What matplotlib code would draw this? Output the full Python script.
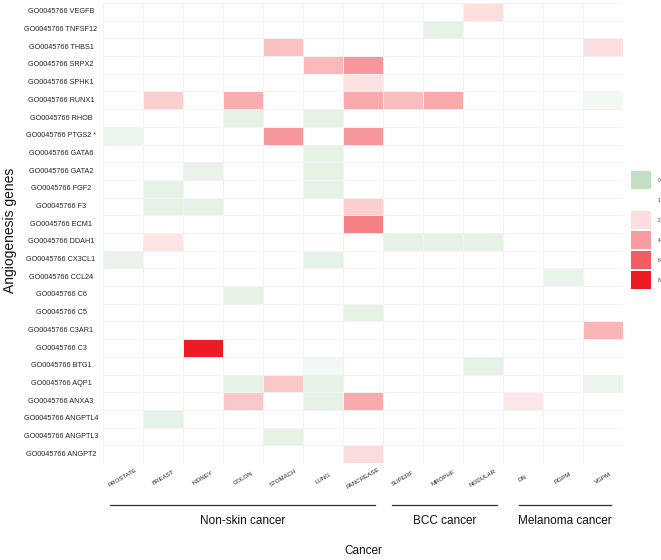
import numpy as np
import matplotlib
matplotlib.use("Agg")
import matplotlib.pyplot as plt
from matplotlib.colors import LinearSegmentedColormap, Normalize
from matplotlib.patches import Rectangle

plt.rcParams['font.family'] = ['Liberation Sans', 'DejaVu Sans']

genes = ["VEGFB", "TNFSF12", "THBS1", "SRPX2", "SPHK1", "RUNX1", "RHOB", "PTGS2 *",
         "GATA6", "GATA2", "FGF2", "F3", "ECM1", "DDAH1", "CX3CL1", "CCL24", "C6",
         "C5", "C3AR1", "C3", "BTG1", "AQP1", "ANXA3", "ANGPTL4", "ANGPTL3", "ANGPT2"]
cancers = ["PROSTATE", "BREAST", "KIDNEY", "COLON", "STOMACH", "LUNG", "PANCREASE",
           "SUPERF", "MROPHF", "NODULAR", "DN", "RGPM", "VGPM"]
groups = ["Non-skin cancer", "BCC cancer", "Melanoma cancer"]

# fold change per gene (rows) and cancer (columns), 1 = no change
fold = [
    [1, 1, 1, 1, 1, 1, 1, 1, 1, 2.0, 1, 1, 1],          # VEGFB
    [1, 1, 1, 1, 1, 1, 1, 1, 0.6, 1, 1, 1, 1],          # TNFSF12
    [1, 1, 1, 1, 2.9, 1, 1, 1, 1, 1, 1, 1, 2.0],        # THBS1
    [1, 1, 1, 1, 1, 3.2, 4.2, 1, 1, 1, 1, 1, 1],        # SRPX2
    [1, 1, 1, 1, 1, 1, 1.9, 1, 1, 1, 1, 1, 1],          # SPHK1
    [1, 2.5, 1, 3.5, 1, 1, 3.6, 3.0, 3.6, 1, 1, 1, 0.8],  # RUNX1
    [1, 1, 1, 0.6, 1, 0.6, 1, 1, 1, 1, 1, 1, 1],        # RHOB
    [0.7, 1, 1, 1, 4.2, 1, 4.2, 1, 1, 1, 1, 1, 1],      # PTGS2 *
    [1, 1, 1, 1, 1, 0.6, 1, 1, 1, 1, 1, 1, 1],          # GATA6
    [1, 1, 0.65, 1, 1, 0.6, 1, 1, 1, 1, 1, 1, 1],       # GATA2
    [1, 0.6, 1, 1, 1, 0.6, 1, 1, 1, 1, 1, 1, 1],        # FGF2
    [1, 0.6, 0.6, 1, 1, 1, 2.5, 1, 1, 1, 1, 1, 1],      # F3
    [1, 1, 1, 1, 1, 1, 4.9, 1, 1, 1, 1, 1, 1],          # ECM1
    [1, 1.8, 1, 1, 1, 1, 1, 0.6, 0.6, 0.6, 1, 1, 1],    # DDAH1
    [0.65, 1, 1, 1, 1, 0.6, 1, 1, 1, 1, 1, 1, 1],       # CX3CL1
    [1, 1, 1, 1, 1, 1, 1, 1, 1, 1, 1, 0.65, 1],         # CCL24
    [1, 1, 1, 0.6, 1, 1, 1, 1, 1, 1, 1, 1, 1],          # C6
    [1, 1, 1, 1, 1, 1, 0.6, 1, 1, 1, 1, 1, 1],          # C5
    [1, 1, 1, 1, 1, 1, 1, 1, 1, 1, 1, 1, 3.3],          # C3AR1
    [1, 1, 8.0, 1, 1, 1, 1, 1, 1, 1, 1, 1, 1],          # C3
    [1, 1, 1, 1, 1, 0.8, 1, 1, 1, 0.6, 1, 1, 1],        # BTG1
    [1, 1, 1, 0.6, 2.7, 0.6, 1, 1, 1, 1, 1, 1, 0.7],    # AQP1
    [1, 1, 1, 2.7, 1, 0.6, 3.6, 1, 1, 1, 1.7, 1, 1],    # ANXA3
    [1, 0.6, 1, 1, 1, 1, 1, 1, 1, 1, 1, 1, 1],          # ANGPTL4
    [1, 1, 1, 1, 0.6, 1, 1, 1, 1, 1, 1, 1, 1],          # ANGPTL3
    [1, 1, 1, 1, 1, 1, 2.1, 1, 1, 1, 1, 1, 1],          # ANGPT2
]
legend_vals = [0, 1, 2, 4, 6, 8]

vals = np.array(fold)
cmap = LinearSegmentedColormap.from_list(
    "gwr", [(0.0, "#c3e0c3"), (1 / 8, "#ffffff"), (1.0, "#ed1c24")])
norm = Normalize(vmin=0, vmax=8)

fig = plt.figure(figsize=(6.61, 5.6), dpi=100)
W, H = 661.0, 560.0
ax = fig.add_axes([103 / W, 1 - 463 / H, 520 / W, 460 / H])
ax.pcolormesh(np.arange(len(cancers) + 1), np.arange(len(genes) + 1), vals,
              cmap=cmap, norm=norm, edgecolors="#f2f2f2", linewidth=0.5)
ax.set_xlim(0, len(cancers))
ax.set_ylim(len(genes), 0)
for s in ax.spines.values():
    s.set_visible(False)
ax.set_xticks([])
ax.set_yticks([])

# gene labels, centred like the original
ytr = ax.get_yaxis_transform()
for i, g in enumerate(genes):
    ax.text(-42 / 520, i + 0.5, "GO0045766 " + g, transform=ytr,
            ha="center", va="center", fontsize=5.2, color="#222222")

# cancer labels
xtr = ax.get_xaxis_transform()
for j, c in enumerate(cancers):
    ax.text(j + 0.5, -15 / 460, c, transform=xtr, ha="center", va="center",
            rotation=30, fontsize=4.4, color="#222222")

# group brackets
spans = [(0.18, 6.8), (7.22, 9.85), (10.4, 12.7)]
for (a, b), name in zip(spans, groups):
    ax.plot([a, b], [-42 / 460] * 2, transform=xtr, color="#333333",
            lw=0.9, clip_on=False)
    ax.text((a + b) / 2, -58 / 460, name, transform=xtr, ha="center",
            va="center", fontsize=8.5, color="#111111")

fig.text(0.5 * (103 + 623) / W, 1 - 551 / H, "Cancer", ha="center",
         va="center", fontsize=8.5, color="#111111")
fig.text(10 / W, 1 - 230 / H, "Angiogenesis genes", rotation=90,
         ha="center", va="center", fontsize=10, color="#111111")

# legend
lax = fig.add_axes([631 / W, 1 - 290 / H, 20 / W, 120 / H])
lax.set_xlim(0, 1)
lax.set_ylim(len(legend_vals), 0)
lax.axis("off")
for k, v in enumerate(legend_vals):
    lax.add_patch(Rectangle((0, k + 0.04), 1, 0.92, facecolor=cmap(norm(v)),
                            edgecolor="none"))
    lax.text(1.35, k + 0.5, str(v), ha="left", va="center", fontsize=3.5,
             color="#333333")

fig.savefig("out.png", dpi=100)
